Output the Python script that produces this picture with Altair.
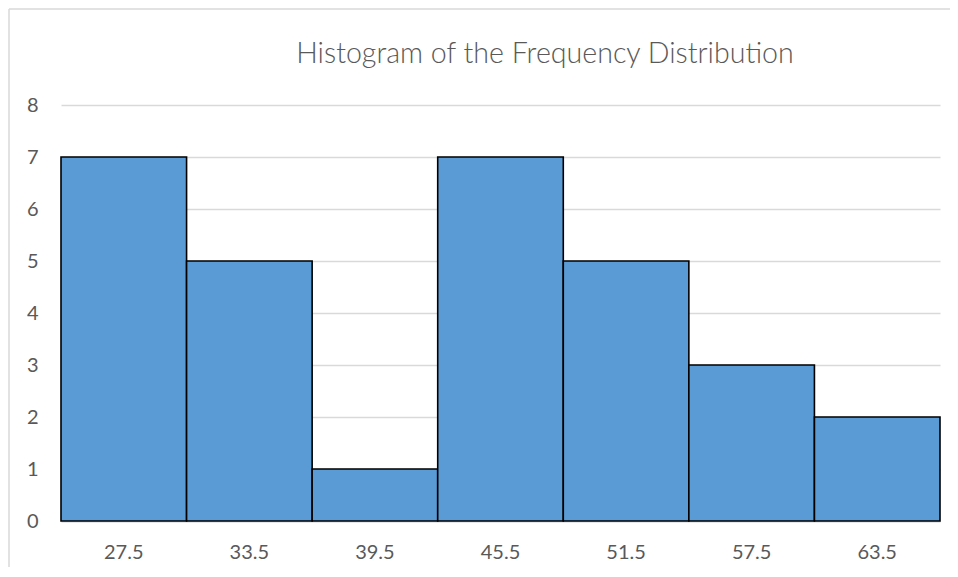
import altair as alt
import pandas as pd

midpoints = ["27.5", "33.5", "39.5", "45.5", "51.5", "57.5", "63.5"]
counts = [7, 5, 1, 7, 5, 3, 2]
title_text = "Histogram of the Frequency Distribution"

df = pd.DataFrame({"mid": midpoints, "count": counts})

W, H = 879, 416

bars = alt.Chart(df).mark_bar(
    color="#5b9bd5", stroke="#000000", strokeWidth=1.6
).encode(
    x=alt.X("mid:O", sort=midpoints,
            scale=alt.Scale(paddingInner=0, paddingOuter=0),
            axis=alt.Axis(title=None, labelAngle=0, ticks=False,
                          domainColor="#d9d9d9", domainWidth=2,
                          labelColor="#595959", labelFont="Lato",
                          labelFontSize=20, labelPadding=21)),
    y=alt.Y("count:Q", scale=alt.Scale(domain=[0, 8]),
            axis=alt.Axis(title=None, values=list(range(9)), ticks=False,
                          domain=False, gridColor="#d9d9d9", gridWidth=1.3,
                          labelColor="#595959", labelFont="Lato",
                          labelFontSize=20, labelPadding=23)),
)

frame_df = pd.DataFrame({"a": [0]})
title_df = pd.DataFrame({"t": [title_text]})

title_mark = alt.Chart(title_df).mark_text(
    font="Lato", fontWeight=300, fontSize=28.6, color="#595959",
    align="center", baseline="alphabetic"
).encode(text="t:N", x=alt.value(484), y=alt.value(-42))

top_border = alt.Chart(frame_df).mark_rule(color="#d9d9d9", strokeWidth=1.5).encode(
    x=alt.value(-52), x2=alt.value(W + 10), y=alt.value(-96)
)
left_border = alt.Chart(frame_df).mark_rule(color="#d9d9d9", strokeWidth=1.5).encode(
    x=alt.value(-52), y=alt.value(-96), y2=alt.value(H + 46)
)

chart = alt.layer(bars, title_mark, top_border, left_border).properties(
    width=W, height=H,
    autosize=alt.AutoSizeParams(type="none"),
    padding={"left": 53, "top": 97, "right": 10, "bottom": 46},
    background="white",
).configure_view(stroke=None)

chart.save("out.html", embed_options={"renderer": "svg", "actions": False})
